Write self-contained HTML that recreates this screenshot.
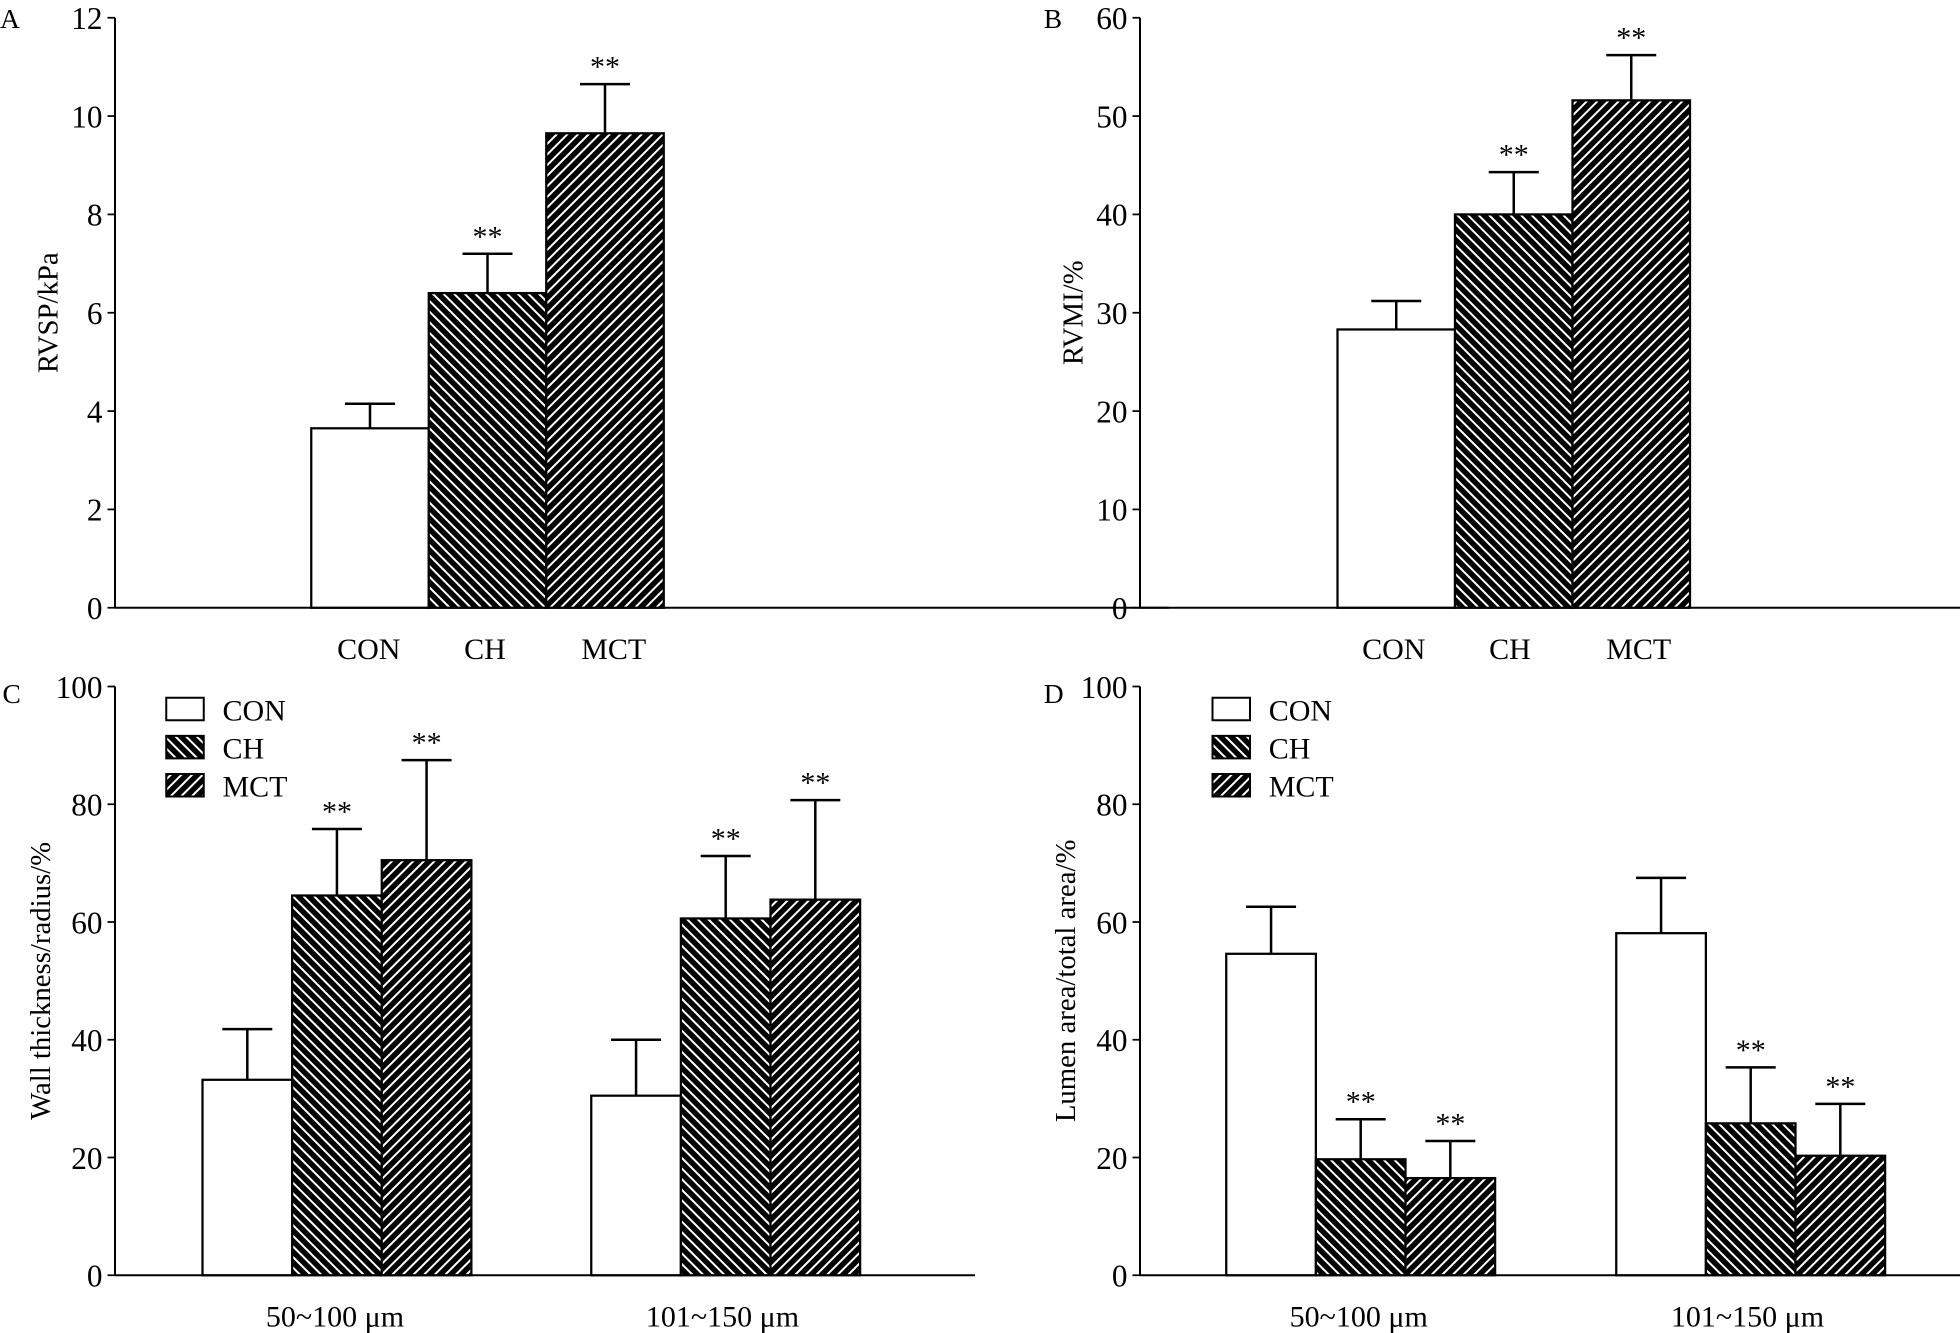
<!DOCTYPE html>
<html><head><meta charset="utf-8"><style>
html,body{margin:0;padding:0;background:#fff;}
svg{display:block;}
text{font-family:"Liberation Serif",serif;fill:#000;}
</style></head><body>
<svg id="fig" width="1960" height="1333" viewBox="0 0 1568 1066" xmlns="http://www.w3.org/2000/svg">
<defs>
<pattern id="hatchCH" patternUnits="userSpaceOnUse" width="6" height="6" patternTransform="rotate(-45)">
<rect width="6" height="6" fill="#000"/><rect x="0" y="0" width="1.6" height="6" fill="#fff"/></pattern>
<pattern id="hatchMCT" patternUnits="userSpaceOnUse" width="6" height="6" patternTransform="rotate(45)">
<rect width="6" height="6" fill="#000"/><rect x="0" y="0" width="1.6" height="6" fill="#fff"/></pattern>
</defs>
<g id="root"></g>
</svg>
<script>
// Panel A
const aCats = ["CON","CH","MCT"];
const aVals = [3.65, 6.4, 9.65];
const aErr = [0.5, 0.8, 1.0];
const aSig = [false, true, true];
const aTicks = [0,2,4,6,8,10,12];
// Panel B
const bVals = [28.3, 40.0, 51.6];
const bErr = [2.9, 4.3, 4.6];
const bSig = [false, true, true];
const bTicks = [0,10,20,30,40,50,60];
// Panel C
const cGroups = ["50~100 μm","101~150 μm"];
const cSeries = ["CON","CH","MCT"];
const cVals = [[33.2, 64.5, 70.5],[30.5, 60.6, 63.8]];
const cErr = [[8.6, 11.3, 17.0],[9.5, 10.6, 16.9]];
const cSig = [[false,true,true],[false,true,true]];
const cTicks = [0,20,40,60,80,100];
// Panel D
const dVals = [[54.6, 19.7, 16.5],[58.1, 25.8, 20.3]];
const dErr = [[8.0, 6.8, 6.3],[9.4, 9.5, 8.8]];
const dSig = [[false,true,true],[false,true,true]];
const dTicks = [0,20,40,60,80,100];

const NS="http://www.w3.org/2000/svg";
const root=document.getElementById('root');
const fills=["#fff","url(#hatchCH)","url(#hatchMCT)"];
function mk(tag,attrs,parent){const e=document.createElementNS(NS,tag);for(const k in attrs)e.setAttribute(k,attrs[k]);(parent||root).appendChild(e);return e;}
function txt(s,x,y,size,anchor,parent){const t=mk('text',{x:x,y:y,'font-size':size,'text-anchor':anchor||'middle'},parent);t.textContent=s;return t;}

function panel(o){
  const g=mk('g',{});
  
  
  const y=v=>o.y0-(v-o.min)/(o.max-o.min)*(o.y0-o.yTop);
  const ya=mk('line',{x1:o.ax,y1:o.yTop,x2:o.ax,y2:o.y0,stroke:'#000','stroke-width':1.6},g);
  
  
  const xa=mk('line',{x1:o.ax,y1:o.y0,x2:o.axEnd,y2:o.y0,stroke:'#000','stroke-width':1.6},g);
  
  
  o.ticks.forEach(t=>{
    mk('line',{x1:o.ax-6,y1:y(t),x2:o.ax,y2:y(t),stroke:'#000','stroke-width':1.4},g);
    const tl=txt(String(t),o.ax-10,y(t)+9,25,'end',g);
    
    
  });
  const yt=txt(o.ytitle,0,0,23,'middle',g);
  yt.setAttribute('transform',`translate(${o.ytx},${(o.yTop+o.y0)/2}) rotate(-90)`);
  
  
  const pl=txt(o.letter,o.lx,o.ly,22,'start',g);
  
  
  o.groups.forEach((grp,gi)=>{
    grp.vals.forEach((v,i)=>{
      const x0=grp.x0+i*o.bw;
      const r=mk('rect',{x:x0,y:y(v),width:o.bw,height:o.y0-y(v),fill:fills[i],stroke:'#000','stroke-width':1.8},g);
      
      
      const cx=x0+o.bw/2, top=y(v+grp.err[i]);
      const eb=mk('path',{d:`M${cx},${y(v)}V${top}M${cx-20},${top}H${cx+20}`,stroke:'#000','stroke-width':2,fill:'none'},g);
      
      
      if(grp.sig[i]){const s=txt('**',cx,top-6,24,'middle',g);
        
        }
    });
    if(grp.label){const cl=txt(grp.label,grp.lx,o.catY,24,'middle',g);
      
      }
  });
  if(o.catLabels){o.catLabels.forEach((c,i)=>{const cl=txt(c,o.catX[i],o.catY,24,'middle',g);
    
    });}
  if(o.legendX){
    o.series.forEach((s,i)=>{
      const ly=558+i*30.5;
      const lb=mk('rect',{x:o.legendX,y:ly,width:30,height:18,fill:fills[i],stroke:'#000','stroke-width':1.6},g);
      
      
      const lt=txt(s,o.legendX+45,ly+18,24,'start',g);
      
      
    });
  }
}
panel({name:'panel-a',letter:'A',lx:0,ly:22,ax:92,axEnd:935,yTop:14,y0:486,min:0,max:12,ticks:aTicks,ytitle:'RVSP/kPa',ytx:46,bw:94,series:aCats,
  groups:[{x0:249,vals:aVals,err:aErr,sig:aSig}],catLabels:aCats,catX:[295,388,491],catY:527});
panel({name:'panel-b',letter:'B',lx:835,ly:22,ax:912,axEnd:1568,yTop:14,y0:486,min:0,max:60,ticks:bTicks,ytitle:'RVMI/%',ytx:866,bw:94,series:aCats,
  groups:[{x0:1070,vals:bVals,err:bErr,sig:bSig}],catLabels:aCats,catX:[1115,1208,1311],catY:527});
panel({name:'panel-c',letter:'C',lx:2,ly:562,ax:92,axEnd:780,yTop:549,y0:1020,min:0,max:100,ticks:cTicks,ytitle:'Wall thickness/radius/%',ytx:40,bw:71.7,series:cSeries,legendX:133,catY:1061,
  groups:[{x0:162,vals:cVals[0],err:cErr[0],sig:cSig[0],label:cGroups[0],lx:268},{x0:473,vals:cVals[1],err:cErr[1],sig:cSig[1],label:cGroups[1],lx:578}]});
panel({name:'panel-d',letter:'D',lx:835,ly:562,ax:912,axEnd:1568,yTop:549,y0:1020,min:0,max:100,ticks:dTicks,ytitle:'Lumen area/total area/%',ytx:860,bw:71.7,series:cSeries,legendX:970,catY:1061,
  groups:[{x0:981,vals:dVals[0],err:dErr[0],sig:dSig[0],label:cGroups[0],lx:1087},{x0:1293,vals:dVals[1],err:dErr[1],sig:dSig[1],label:cGroups[1],lx:1398}]});
</script>
</body></html>
